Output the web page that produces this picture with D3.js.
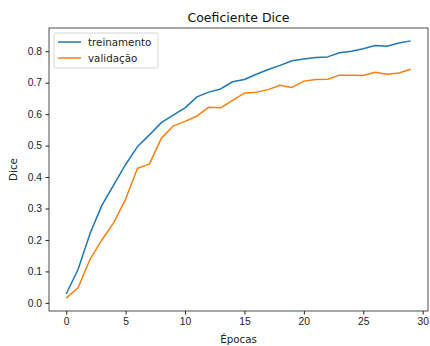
<html>
  <head>
    <meta charset="utf-8">
    <title>Coeficiente Dice</title>
    <style>
      body { margin: 0; background: #fff; }
      svg { font-family: "DejaVu Sans", sans-serif; }
      .tick text { font-size: 10.3px; fill: #222; }
      .tick line { stroke: #222; }
      .domain { stroke: none; }
    </style>
  </head>
  <body>
    <svg id="chart" width="430" height="346"></svg>
    <script src="https://cdn.jsdelivr.net/npm/d3@7"></script>
    <script>
// values
var epocas = d3.range(0, 30);
var treinamento = [0.028, 0.107, 0.220, 0.310, 0.375, 0.440, 0.497, 0.534, 0.573, 0.597,
                   0.620, 0.655, 0.670, 0.680, 0.703, 0.710, 0.727, 0.742, 0.755, 0.770,
                   0.775, 0.780, 0.782, 0.795, 0.800, 0.808, 0.818, 0.816, 0.826, 0.833];
var validacao = [0.015, 0.048, 0.138, 0.200, 0.255, 0.330, 0.428, 0.441, 0.523, 0.562,
                 0.577, 0.594, 0.622, 0.620, 0.644, 0.667, 0.670, 0.678, 0.692, 0.685,
                 0.705, 0.710, 0.711, 0.724, 0.724, 0.723, 0.733, 0.727, 0.731, 0.743];
var xTicks = [0, 5, 10, 15, 20, 25, 30];
var yTicks = [0, 0.1, 0.2, 0.3, 0.4, 0.5, 0.6, 0.7, 0.8];

var series = [
  { name: "treinamento", values: treinamento, colour: "#1f77b4" },
  { name: "validação", values: validacao, colour: "#ff7f0e" }
];

// plot box (note: "top" is taken by window.top, so use other names)
var box = { left: 49, top: 28, right: 428, bottom: 311 };
var svg = d3.select("#chart");

// matplotlib-ish 5% margins around the data
var allY = treinamento.concat(validacao);
var yMin = d3.min(allY), yMax = d3.max(allY), yPad = (yMax - yMin) * 0.05;
var xPad = (d3.max(epocas) - d3.min(epocas)) * 0.05;

var x = d3.scaleLinear()
    .domain([d3.min(epocas) - xPad, d3.max(epocas) + xPad])
    .range([box.left, box.right]);
var y = d3.scaleLinear()
    .domain([yMin - yPad, yMax + yPad])
    .range([box.bottom, box.top]);

svg.append("g")
    .attr("transform", "translate(0," + box.bottom + ")")
    .call(d3.axisBottom(x).tickValues(xTicks).tickSize(3.5).tickPadding(3.5).tickFormat(d3.format("d")));
svg.append("g")
    .attr("transform", "translate(" + box.left + ",0)")
    .call(d3.axisLeft(y).tickValues(yTicks).tickSize(3.5).tickPadding(3.5).tickFormat(d3.format(".1f")));

var line = d3.line()
    .x((d, i) => x(epocas[i]))
    .y(d => y(d));

svg.selectAll(".serie")
    .data(series)
    .enter().append("path")
      .attr("class", "serie")
      .attr("fill", "none")
      .attr("stroke", d => d.colour)
      .attr("stroke-width", 1.5)
      .attr("stroke-linejoin", "round")
      .attr("d", d => line(d.values));

// frame
svg.append("rect")
    .attr("x", box.left).attr("y", box.top)
    .attr("width", box.right - box.left).attr("height", box.bottom - box.top)
    .attr("fill", "none")
    .attr("stroke", "#222")
    .attr("stroke-width", 0.8);

svg.append("text")
    .attr("x", (box.left + box.right) / 2)
    .attr("y", 22)
    .attr("text-anchor", "middle")
    .style("font-size", "12.5px")
    .attr("fill", "#111")
    .text("Coeficiente Dice");

svg.append("text")
    .attr("x", (box.left + box.right) / 2)
    .attr("y", 343)
    .attr("text-anchor", "middle")
    .style("font-size", "10.3px")
    .attr("fill", "#222")
    .text("Épocas");

svg.append("text")
    .attr("transform", "translate(17," + (box.top + box.bottom) / 2 + ") rotate(-90)")
    .attr("text-anchor", "middle")
    .style("font-size", "10.3px")
    .attr("fill", "#222")
    .text("Dice");

// legend
var legend = svg.append("g").attr("transform", "translate(54,33)");
legend.append("rect")
    .attr("width", 104).attr("height", 35)
    .attr("rx", 2)
    .attr("fill", "#fff")
    .attr("fill-opacity", 0.8)
    .attr("stroke", "#ccc")
    .attr("stroke-width", 0.8);
var item = legend.selectAll(".item")
    .data(series)
    .enter().append("g")
      .attr("class", "item")
      .attr("transform", (d, i) => "translate(0," + (9 + i * 16) + ")");
item.append("line")
    .attr("x1", 4).attr("x2", 27)
    .attr("stroke", d => d.colour)
    .attr("stroke-width", 1.5);
item.append("text")
    .attr("x", 34)
    .attr("dy", "0.35em")
    .style("font-size", "10.3px")
    .attr("fill", "#222")
    .text(d => d.name);
    </script>
  </body>
</html>
